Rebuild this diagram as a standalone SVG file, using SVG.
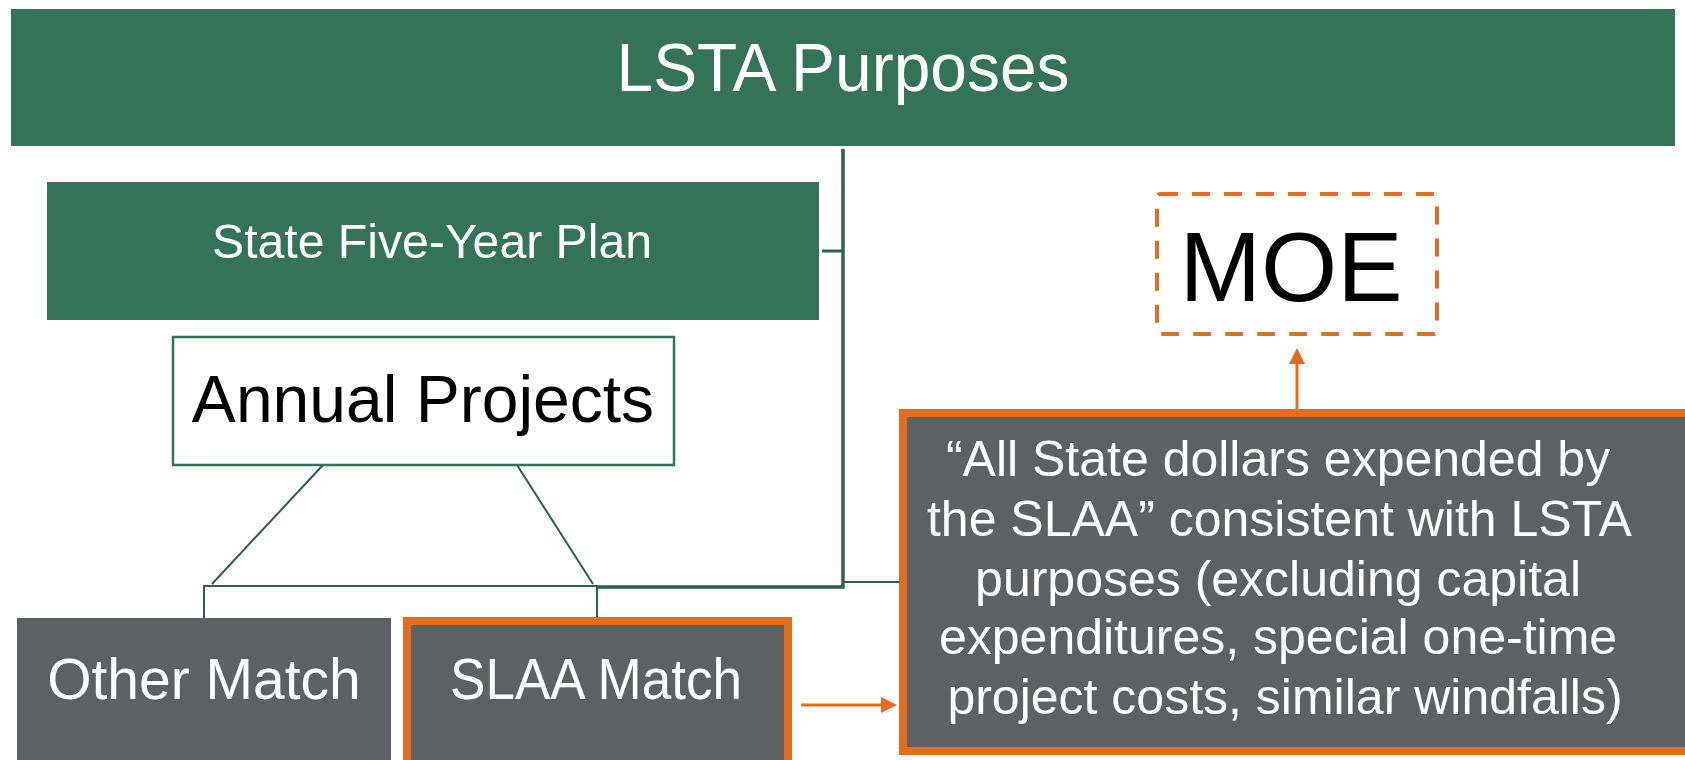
<svg xmlns="http://www.w3.org/2000/svg" width="1685" height="760" viewBox="0 0 1685 760">
<style>
.green{fill:#34725A;}
.gray{fill:#5F6062;}
.t{font-family:"Liberation Sans",Arial,sans-serif;text-anchor:middle;}
.w{fill:#FFFFFF;}
.k{fill:#000000;}
.ln{fill:none;stroke:#2E5E4C;}
.or{fill:none;stroke:#E36C1F;}
</style>
<rect width="1685" height="760" fill="#FFFFFF"/>
<g id="connectors">
<path class="ln" stroke-width="2" d="M323,465 L212,584"/>
<path class="ln" stroke-width="2" d="M517,465 L593,584"/>
<path class="ln" stroke-width="2" d="M204,618 V586 H597 V618"/>
<path class="ln" stroke-width="3.5" d="M597,587 H843 V149"/>
<path class="ln" stroke-width="3" d="M822,251 H843"/>
<path class="ln" stroke-width="2" d="M843,582 H900"/>
<path class="or" stroke-width="3" d="M801,705 H884"/>
<path d="M881,697 L897,705 L881,713 z" fill="#E36C1F"/>
<path class="or" stroke-width="3" d="M1297,409 V362"/>
<path d="M1289,364 L1297,348 L1305,364 z" fill="#E36C1F"/>
</g>
<g id="lsta-purposes">
<rect class="green" x="11" y="9" width="1664" height="137"/>
<text class="t w" x="843" y="91" font-size="68" textLength="453" lengthAdjust="spacingAndGlyphs">LSTA Purposes</text>
</g>
<g id="state-plan">
<rect class="green" x="47" y="182" width="772" height="138"/>
<text class="t w" x="432" y="258" font-size="48" textLength="440" lengthAdjust="spacingAndGlyphs">State Five-Year Plan</text>
</g>
<g id="annual-projects">
<rect x="173" y="337" width="501" height="128" fill="#FFFFFF" stroke="#34725A" stroke-width="2.5"/>
<text class="t k" x="423" y="422" font-size="66">Annual Projects</text>
</g>
<g id="other-match">
<rect class="gray" x="17" y="618" width="374" height="150"/>
<text class="t w" x="204" y="699" font-size="57">Other Match</text>
</g>
<g id="slaa-match">
<rect class="gray" x="407" y="621" width="381" height="150" stroke="#E36C1F" stroke-width="8"/>
<text class="t w" x="596" y="699" font-size="57" textLength="292" lengthAdjust="spacingAndGlyphs">SLAA Match</text>
</g>
<g id="moe">
<rect x="1157" y="194" width="280" height="140" rx="3" fill="none" stroke="#E36C1F" stroke-width="4" stroke-dasharray="18 14"/>
<text class="t k" x="1291" y="301" font-size="98">MOE</text>
</g>
<g id="state-dollars">
<rect class="gray" x="903" y="413" width="800" height="338" stroke="#E36C1F" stroke-width="8"/>
<text class="t w" font-size="50">
<tspan x="1285" y="476">“All State dollars expended by</tspan>
<tspan x="1285" y="536">the SLAA” consistent with LSTA</tspan>
<tspan x="1285" y="596">purposes (excluding capital</tspan>
<tspan x="1285" y="654">expenditures, special one-time</tspan>
<tspan x="1285" y="714">project costs, similar windfalls)</tspan>
</text>
</g>
</svg>
